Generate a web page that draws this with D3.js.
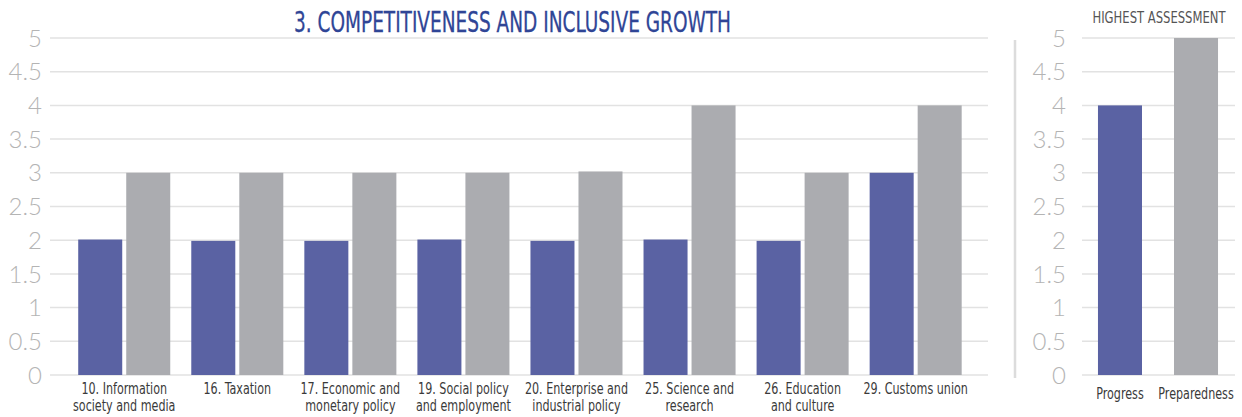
<!DOCTYPE html>
<html>
<head>
<meta charset="utf-8">
<script src="https://cdn.jsdelivr.net/npm/d3@7"></script>
<style>
  html, body { margin: 0; padding: 0; background: #fff; }
  svg { display: block; }
  .cond { font-family: "Liberation Sans Narrow", "DejaVu Sans Condensed", "Roboto Condensed", sans-serif; }
  .tick-lbl { font-family: Lato, "Open Sans", Roboto, sans-serif; font-weight: 300; }
</style>
</head>
<body>
<svg id="chart" width="1242" height="417"></svg>
<script>
// ---- data ----
const categories = [
  "10. Information|society and media",
  "16. Taxation",
  "17. Economic and|monetary policy",
  "19. Social policy|and employment",
  "20. Enterprise and|industrial policy",
  "25. Science and|research",
  "26. Education|and culture",
  "29. Customs union"
];
const seriesNames = ["Progress", "Preparedness"];
const progressValues = [2.01, 1.99, 1.99, 2.01, 1.99, 2.01, 1.99, 3];
const preparednessValues = [3, 3, 3, 3, 3.02, 4, 3, 4];
const highestCategories = ["Progress", "Preparedness"];
const highestValues = [4, 5];
const yTicks = [0, 0.5, 1, 1.5, 2, 2.5, 3, 3.5, 4, 4.5, 5];
const titleMain = "3. COMPETITIVENESS AND INCLUSIVE GROWTH";
const titleSide = "HIGHEST ASSESSMENT";

const colors = { Progress: "#5a62a3", Preparedness: "#abacb0" };

const svg = d3.select("#chart");

const y = d3.scaleLinear().domain([0, 5]).range([375, 38]);

// ---- left panel ----
const gridL = { x0: 50, x1: 988 };
const x = d3.scaleBand().domain(categories).range([67.7, 972.2]).paddingInner(0.186).paddingOuter(0.093);
const xs = d3.scaleBand().domain(seriesNames).range([0, x.bandwidth()]).paddingInner(0.0833);

function drawGrid(x0, x1, labelX) {
  const g = svg.append("g");
  g.selectAll("line").data(yTicks).join("line")
    .attr("x1", x0).attr("x2", x1)
    .attr("y1", d => y(d)).attr("y2", d => y(d))
    .attr("stroke", "#e2e2e2").attr("stroke-width", 1.5);
  g.selectAll("text").data(yTicks).join("text")
    .attr("class", "tick-lbl")
    .attr("x", labelX).attr("y", d => y(d))
    .attr("dy", "0.36em")
    .attr("text-anchor", "end")
    .attr("font-size", 24)
    .attr("fill", "#b4b4b4")
    .text(d => d);
}
drawGrid(gridL.x0, gridL.x1, 42);

const rows = categories.map((c, i) => ({ cat: c, vals: [
  { s: "Progress", v: progressValues[i] },
  { s: "Preparedness", v: preparednessValues[i] }
]}));

const grp = svg.append("g").selectAll("g").data(rows).join("g")
  .attr("transform", d => `translate(${x(d.cat)},0)`);
grp.selectAll("rect").data(d => d.vals).join("rect")
  .attr("x", d => xs(d.s)).attr("width", xs.bandwidth())
  .attr("y", d => y(d.v)).attr("height", d => y(0) - y(d.v))
  .attr("fill", d => colors[d.s]);

const xl = svg.append("g").selectAll("text").data(categories).join("text")
  .attr("class", "cond")
  .attr("text-anchor", "middle")
  .attr("font-size", 15.5)
  .attr("fill", "#3a3a3a")
  .attr("transform", d => `translate(${x(d) + x.bandwidth() / 2},394) scale(0.8,1)`);
xl.selectAll("tspan").data(d => d.split("|")).join("tspan")
  .attr("x", 0).attr("dy", (d, i) => i === 0 ? 0 : 17.5).text(d => d);

svg.append("text").attr("class", "cond")
  .attr("transform", "translate(512.5,32) scale(0.735,1)")
  .attr("text-anchor", "middle")
  .attr("font-size", 28)
  .attr("fill", "#2f4596")
  .attr("stroke", "#2f4596")
  .attr("stroke-width", 0.3)
  .text(titleMain);

// separator
svg.append("line").attr("x1", 1015).attr("x2", 1015).attr("y1", 40).attr("y2", 378)
  .attr("stroke", "#dcdcdc").attr("stroke-width", 2.5);

// ---- right panel ----
drawGrid(1082, 1235, 1066);
const xr = d3.scaleBand().domain(highestCategories).range([1082, 1234]).paddingInner(0.421).paddingOuter(0.21);
svg.append("g").selectAll("rect").data(highestCategories).join("rect")
  .attr("x", d => xr(d)).attr("width", xr.bandwidth())
  .attr("y", (d, i) => y(highestValues[i])).attr("height", (d, i) => y(0) - y(highestValues[i]))
  .attr("fill", d => colors[d]);
svg.append("g").selectAll("text").data(highestCategories).join("text")
  .attr("class", "cond")
  .attr("text-anchor", "middle")
  .attr("font-size", 15.5)
  .attr("fill", "#3a3a3a")
  .attr("transform", d => `translate(${xr(d) + xr.bandwidth() / 2},399) scale(0.8,1)`)
  .text(d => d);

svg.append("text").attr("class", "cond")
  .attr("transform", "translate(1159,23) scale(0.86,1)")
  .attr("text-anchor", "middle")
  .attr("font-size", 15)
  .attr("fill", "#555")
  .text(titleSide);
</script>
</body>
</html>
